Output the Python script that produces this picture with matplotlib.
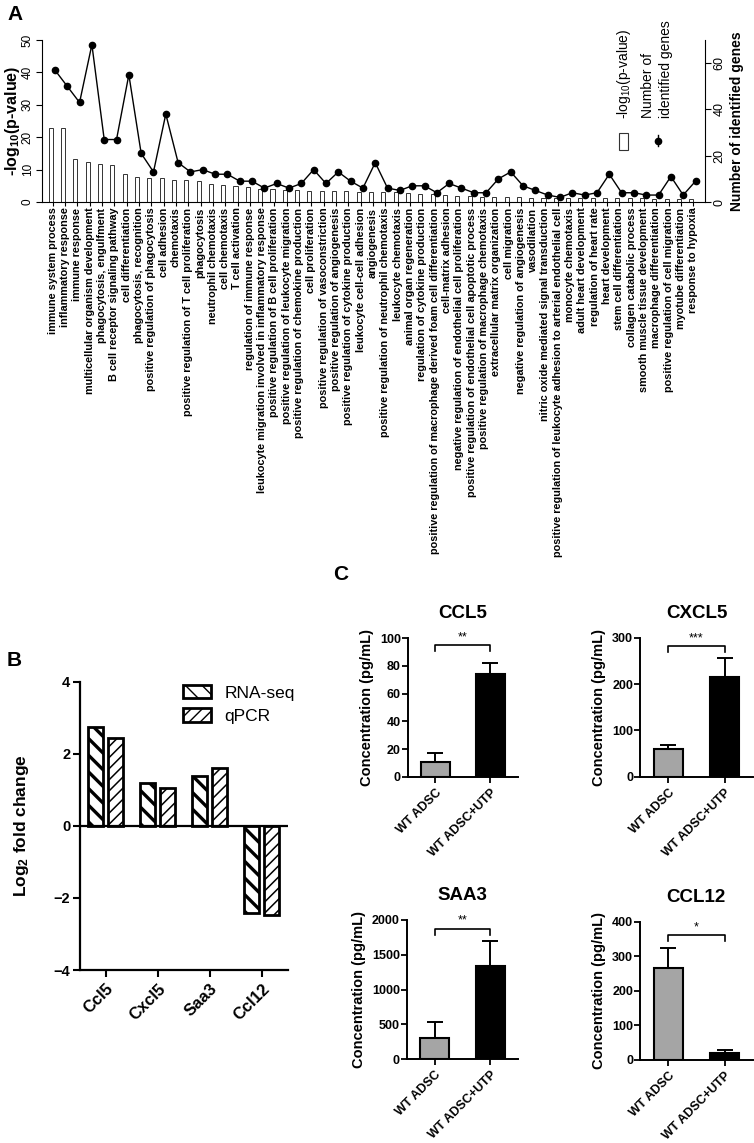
import matplotlib
matplotlib.use('Agg')
import matplotlib.pyplot as plt
import numpy as np
from matplotlib.patches import Rectangle

plt.rcParams['font.family'] = ['Liberation Sans', 'DejaVu Sans']
plt.rcParams['mathtext.fontset'] = 'custom'
plt.rcParams['mathtext.rm'] = 'Liberation Sans'
plt.rcParams['mathtext.bf'] = 'Liberation Sans:bold'
plt.rcParams['mathtext.default'] = 'regular'

# ---- panel A: GO enrichment ----
go_terms = [
    'immune system process', 'inflammatory response', 'immune response',
    'multicellular organism development', 'phagocytosis, engulfment',
    'B cell receptor signaling pathway', 'cell differentiation',
    'phagocytosis, recognition', 'positive regulation of phagocytosis',
    'cell adhesion', 'chemotaxis', 'positive regulation of T cell proliferation',
    'phagocytosis', 'neutrophil chemotaxis', 'cell chemotaxis', 'T cell activation',
    'regulation of immune response',
    'leukocyte migration involved in inflammatory response',
    'positive regulation of B cell proliferation',
    'positive regulation of leukocyte migration',
    'positive regulation of chemokine production', 'cell proliferation',
    'positive regulation of vasoconstriction', 'positive regulation of angiogenesis',
    'positive regulation of cytokine production', 'leukocyte cell-cell adhesion',
    'angiogenesis', 'positive regulation of neutrophil chemotaxis',
    'leukocyte chemotaxis', 'animal organ regeneration',
    'regulation of cytokine production',
    'positive regulation of macrophage derived foam cell differentiation',
    'cell-matrix adhesion', 'negative regulation of endothelial cell proliferation',
    'positive regulation of endothelial cell apoptotic process',
    'positive regulation of macrophage chemotaxis', 'extracellular matrix organization',
    'cell migration', 'negative regulation of angiogenesis', 'vasodilation',
    'nitric oxide mediated signal transduction',
    'positive regulation of leukocyte adhesion to arterial endothelial cell',
    'monocyte chemotaxis', 'adult heart development', 'regulation of heart rate',
    'heart development', 'stem cell differentiation', 'collagen catabolic process',
    'smooth muscle tissue development', 'macrophage differentiation',
    'positive regulation of cell migration', 'myotube differentiation',
    'response to hypoxia',
]
neg_log_p = [22.7, 22.7, 13.4, 12.3, 11.8, 11.5, 8.7, 7.8, 7.5, 7.5, 6.9, 6.9, 6.6,
             5.7, 5.4, 4.8, 4.6, 4.1, 4.0, 3.7, 3.6, 3.5, 3.5, 3.4, 3.3, 3.2, 3.2,
             3.2, 3.2, 2.8, 2.6, 2.4, 2.2, 2.0, 1.8, 1.6, 1.4, 1.4, 1.4, 1.3, 1.3,
             1.3, 1.2, 1.2, 1.2, 1.2, 1.1, 1.1, 1.1, 1.0, 1.0, 1.0, 1.0]
gene_counts = [57, 50, 43, 68, 27, 27, 55, 21, 13, 38, 17, 13, 14, 12, 12, 9, 9,
               6, 8, 6, 8, 14, 8, 13, 9, 6, 17, 6, 5, 7, 7, 4, 8, 6, 4, 4, 10, 13,
               7, 5, 3, 2, 4, 3, 4, 12, 4, 4, 3, 3, 11, 3, 9]

# ---- panel B: RNA-seq vs qPCR ----
genes_b = ['Ccl5', 'Cxcl5', 'Saa3', 'Ccl12']
rnaseq_fc = [2.73, 1.19, 1.37, -2.43]
qpcr_fc = [2.45, 1.06, 1.61, -2.47]

# ---- panel C: ELISA ----
groups = ['WT ADSC', 'WT ADSC+UTP']
cyto_names = ['CCL5', 'CXCL5', 'SAA3', 'CCL12']
cyto_means = [[10.8, 74.5], [59.7, 215.8], [301, 1340], [267, 21.2]]
cyto_err = [[6.5, 7.7], [8.6, 41.0], [235, 359], [57, 7.7]]
cyto_stars = ['**', '***', '**', '*']
cyto_ymax = [100, 300, 2000, 400]
cyto_ystep = [20, 100, 500, 100]
bracket_y = [95, 282, 1871, 361]

W, H = 754, 1143
fig = plt.figure(figsize=(W / 100, H / 100), dpi=100)


def rect(l, t, r, b):
    return [l / W, 1 - b / H, (r - l) / W, (b - t) / H]


# ================= A =================
ax = fig.add_axes(rect(42, 40, 705, 202))
x = np.arange(len(go_terms))
ax.bar(x - 0.16, neg_log_p, width=0.33, color='white', edgecolor='#333333',
       linewidth=0.7, zorder=2)
ax.set_xlim(-0.87, 52.95)
ax.set_ylim(0, 50)
ax.set_yticks(range(0, 51, 10))
ax.tick_params(axis='y', labelrotation=90, labelsize=8.5, length=4, pad=2)
for lbl in ax.get_yticklabels():
    lbl.set_va('center')
ax.set_xticks(x)
ax.set_xticklabels(go_terms, rotation=90, fontsize=7.8, fontweight='bold')
ax.tick_params(axis='x', length=3, pad=1)
for s in ['top', 'right']:
    ax.spines[s].set_visible(False)
ax.set_ylabel(r'-log$_{\mathbf{10}}$(p-value)', fontweight='bold', fontsize=11.5)
ax.yaxis.set_label_coords(-0.03, 0.5)

ax2 = ax.twinx()
ax2.plot(x + 0.18, gene_counts, color='black', lw=1, marker='o', ms=4.5, zorder=3)
ax2.set_ylim(0, 70)
ax2.set_yticks([0, 20, 40, 60])
ax2.tick_params(axis='y', labelrotation=90, labelsize=9, length=4, pad=2)
for lbl in ax2.get_yticklabels():
    lbl.set_va('center')
for s in ['top', 'left', 'bottom']:
    ax2.spines[s].set_visible(False)
ax2.set_ylabel('Number of identified genes', fontweight='bold', fontsize=10,
               rotation=90, labelpad=3)

# ================= B =================
axb = fig.add_axes(rect(80, 681.7, 288, 970))
xb = np.arange(len(genes_b))
bw = 0.29
with plt.rc_context({'hatch.linewidth': 2.4}):
    b1 = axb.bar(xb - 0.2, rnaseq_fc, bw, color='white', edgecolor='black',
                 linewidth=2.0, hatch='\\\\', label='RNA-seq', zorder=2)
with plt.rc_context({'hatch.linewidth': 1.1}):
    b2 = axb.bar(xb + 0.18, qpcr_fc, bw, color='white', edgecolor='black',
                 linewidth=2.0, hatch='///', label='qPCR', zorder=2)
for bars, hw in [(b1, 2.4), (b2, 1.1)]:
    for p in bars:
        try:
            p.set_hatch_linewidth(hw)
        except AttributeError:
            pass
axb.axhline(0, color='black', lw=1.6, zorder=3)
axb.set_xlim(-0.5, 3.5)
axb.set_ylim(-4, 4)
axb.set_yticks([-4, -2, 0, 2, 4])
axb.set_xticks(xb)
axb.set_xticklabels(genes_b, rotation=45, ha='right', rotation_mode='anchor',
                    fontsize=12, fontweight='bold')
for lbl in axb.get_yticklabels():
    lbl.set_fontweight('bold')
axb.tick_params(axis='y', labelsize=10.5, length=5, width=1.5, pad=2)
axb.tick_params(axis='x', length=5, width=1.5, pad=3)
for s in ['top', 'right']:
    axb.spines[s].set_visible(False)
for s in ['left', 'bottom']:
    axb.spines[s].set_linewidth(1.6)
axb.set_ylabel(r'Log$_{\mathbf{2}}$ fold change', fontweight='bold', fontsize=12.5,
               labelpad=16)
leg = axb.legend(loc='upper left', bbox_to_anchor=(183 / W, 1 - 685 / H),
                 bbox_transform=fig.transFigure, frameon=False, fontsize=12.5,
                 handlelength=1.6, handleheight=0.8, handletextpad=0.8,
                 labelspacing=0.45, borderpad=0, borderaxespad=0)

# ================= C =================
c_rects = [(407.7, 638.3, 518, 776.7), (640, 637.7, 753, 776.7),
           (406.7, 920, 518.3, 1059.3), (640, 921.7, 752.7, 1060)]
xc = np.arange(len(groups))
for k, r in enumerate(c_rects):
    axc = fig.add_axes(rect(*r))
    axc.bar(xc, cyto_means[k], 0.52, color=['#a5a5a5', 'black'], edgecolor='black',
            linewidth=1.5, zorder=2)
    axc.errorbar(xc, cyto_means[k], yerr=[[0, 0], cyto_err[k]], fmt='none',
                 ecolor='black', elinewidth=1.4, capsize=5.5, capthick=1.4, zorder=3)
    ymax = cyto_ymax[k]
    by = bracket_y[k]
    d = ymax * 0.045
    axc.plot([0, 0, 1, 1], [by - d, by, by, by - d], color='black', lw=1.2,
             clip_on=False)
    axc.text(0.5, by + ymax * 0.015, cyto_stars[k], ha='center', va='bottom',
             fontsize=9, clip_on=False)
    axc.set_xlim(-0.5, 1.5)
    axc.set_ylim(0, ymax)
    axc.set_yticks(np.arange(0, ymax + 1, cyto_ystep[k]))
    axc.set_xticks(xc)
    axc.set_xticklabels(groups, rotation=45, ha='right', rotation_mode='anchor',
                        fontsize=9, fontweight='bold')
    for lbl in axc.get_yticklabels():
        lbl.set_fontweight('bold')
    axc.tick_params(axis='y', labelsize=9, length=4, width=1.3, pad=1)
    axc.tick_params(axis='x', length=4, width=1.3, pad=3)
    for s in ['top', 'right']:
        axc.spines[s].set_visible(False)
    for s in ['left', 'bottom']:
        axc.spines[s].set_linewidth(1.4)
    axc.set_title(cyto_names[k], fontsize=13.5, fontweight='bold', pad=14.5)
    axc.set_ylabel('Concentration (pg/mL)', fontsize=10.5, fontweight='bold',
                   labelpad=4)

# ============ overlay: panel letters, rotated legend of A ============
ov = fig.add_axes([0, 0, 1, 1], zorder=10)
ov.set_xlim(0, W)
ov.set_ylim(H, 0)
ov.axis('off')
ov.patch.set_visible(False)
ov.text(15, 15, 'A', fontsize=15, fontweight='bold', ha='center', va='center')
ov.text(14, 661, 'B', fontsize=15, fontweight='bold', ha='center', va='center')
ov.text(341, 574, 'C', fontsize=15, fontweight='bold', ha='center', va='center')

ov.add_patch(Rectangle((619, 133), 9, 17, facecolor='white', edgecolor='#333333',
                       lw=0.8))
ov.text(624, 119, r'-log$_{10}$(p-value)', rotation=90, ha='center', va='bottom',
        fontsize=10)
ov.plot([658, 658], [135, 146], color='black', lw=1)
ov.plot([658], [140.5], 'o', color='black', ms=4.5)
ov.text(657, 118, 'Number of\nidentified genes', rotation=90, ha='center',
        va='bottom', fontsize=10, multialignment='left', linespacing=1.4)

fig.savefig('out.png', dpi=100)
